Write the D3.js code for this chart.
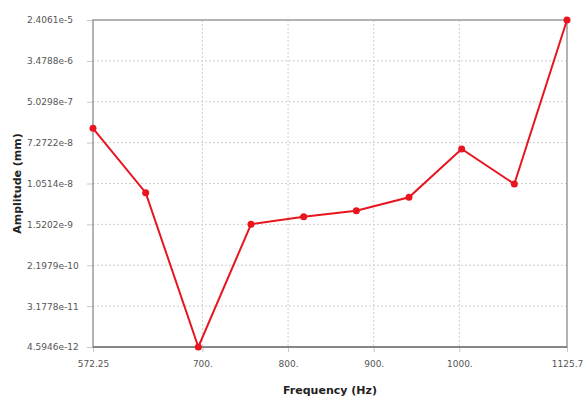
<!DOCTYPE html>
<html><head><meta charset="utf-8">
<script src="https://cdn.jsdelivr.net/npm/d3@7"></script>
<style>body{margin:0;background:#fff}</style>
</head><body>
<svg id="c" width="583" height="401"></svg>
<script>
const freqs = [572.25, 633.74, 695.24, 756.73, 818.23, 879.72, 941.21, 1002.7, 1064.2, 1125.7];
const amps = [1.432e-7, 6.80e-9, 4.5946e-12, 1.526e-9, 2.185e-9, 2.903e-9, 5.47e-9, 5.38e-8, 1.027e-8, 2.4061e-5];
const yTicks = [4.5946e-12, 3.1778e-11, 2.1979e-10, 1.5202e-9, 1.0514e-8, 7.2722e-8, 5.0298e-7, 3.4788e-6, 2.4061e-5];
const yTickLabels = ["4.5946e-12","3.1778e-11","2.1979e-10","1.5202e-9","1.0514e-8","7.2722e-8","5.0298e-7","3.4788e-6","2.4061e-5"];
const xTicks = [572.25, 700, 800, 900, 1000, 1125.7];
const xTickLabels = ["572.25","700.","800.","900.","1000.","1125.7"];

const svg = d3.select("#c");
const L = 93, R = 567, T = 20, B = 347;
const x = d3.scaleLinear().domain([572.25, 1125.7]).range([L, R]);
const y = d3.scaleLog().domain([4.5946e-12, 2.4061e-5]).range([B, T]);

// grid
svg.append("g").selectAll("line").data(yTicks.slice(1, -1)).join("line")
  .attr("x1", L).attr("x2", R).attr("y1", d => y(d)).attr("y2", d => y(d))
  .attr("stroke", "#cfcfcf").attr("stroke-dasharray", "2,2").attr("stroke-width", 1);
svg.append("g").selectAll("line").data(xTicks.slice(1, -1)).join("line")
  .attr("y1", T).attr("y2", B).attr("x1", d => x(d)).attr("x2", d => x(d))
  .attr("stroke", "#cfcfcf").attr("stroke-dasharray", "2,2").attr("stroke-width", 1);

// axes
const yAxis = d3.axisLeft(y).tickValues(yTicks).tickFormat((d, i) => yTickLabels[i]).tickSize(6);
const gy = svg.append("g").attr("transform", `translate(${L},0)`).call(yAxis);
gy.selectAll("text").attr("x", 27 - L).attr("text-anchor", "start");
const xAxis = d3.axisBottom(x).tickValues(xTicks).tickFormat((d, i) => xTickLabels[i]).tickSize(5).tickPadding(9);
const gx = svg.append("g").attr("transform", `translate(0,${B})`).call(xAxis);
[gx, gy].forEach(g => {
  g.select(".domain").remove();
  g.selectAll("line").attr("stroke", "#c8c8c8");
  g.selectAll("text").attr("fill", "#555").style("font-family", "DejaVu Sans, sans-serif").style("font-size", "9px");
});

// frame
svg.append("rect").attr("x", L).attr("y", T).attr("width", R - L).attr("height", B - T)
  .attr("fill", "none").attr("stroke", "#9a9a9a").attr("stroke-width", 1.5);
svg.append("line").attr("x1", L).attr("x2", R).attr("y1", B).attr("y2", B).attr("stroke", "#777").attr("stroke-width", 1.5);

// line
const pts = freqs.map((f, i) => [f, amps[i]]);
svg.append("path").datum(pts)
  .attr("d", d3.line().x(d => x(d[0])).y(d => y(d[1])))
  .attr("fill", "none").attr("stroke", "#e8141e").attr("stroke-width", 2);
svg.append("g").selectAll("circle").data(pts).join("circle")
  .attr("cx", d => x(d[0])).attr("cy", d => y(d[1])).attr("r", 3.5).attr("fill", "#e8141e");

// titles
svg.append("text").attr("x", (L + R) / 2).attr("y", 394).attr("text-anchor", "middle")
  .style("font-family", "DejaVu Sans, sans-serif").style("font-size", "11px").style("font-weight", "bold")
  .attr("fill", "#222").text("Frequency (Hz)");
svg.append("text").attr("transform", `translate(21,${(T + B) / 2}) rotate(-90)`).attr("text-anchor", "middle")
  .style("font-family", "DejaVu Sans, sans-serif").style("font-size", "11px").style("font-weight", "bold")
  .attr("fill", "#222").text("Amplitude (mm)");
</script>
</body></html>
